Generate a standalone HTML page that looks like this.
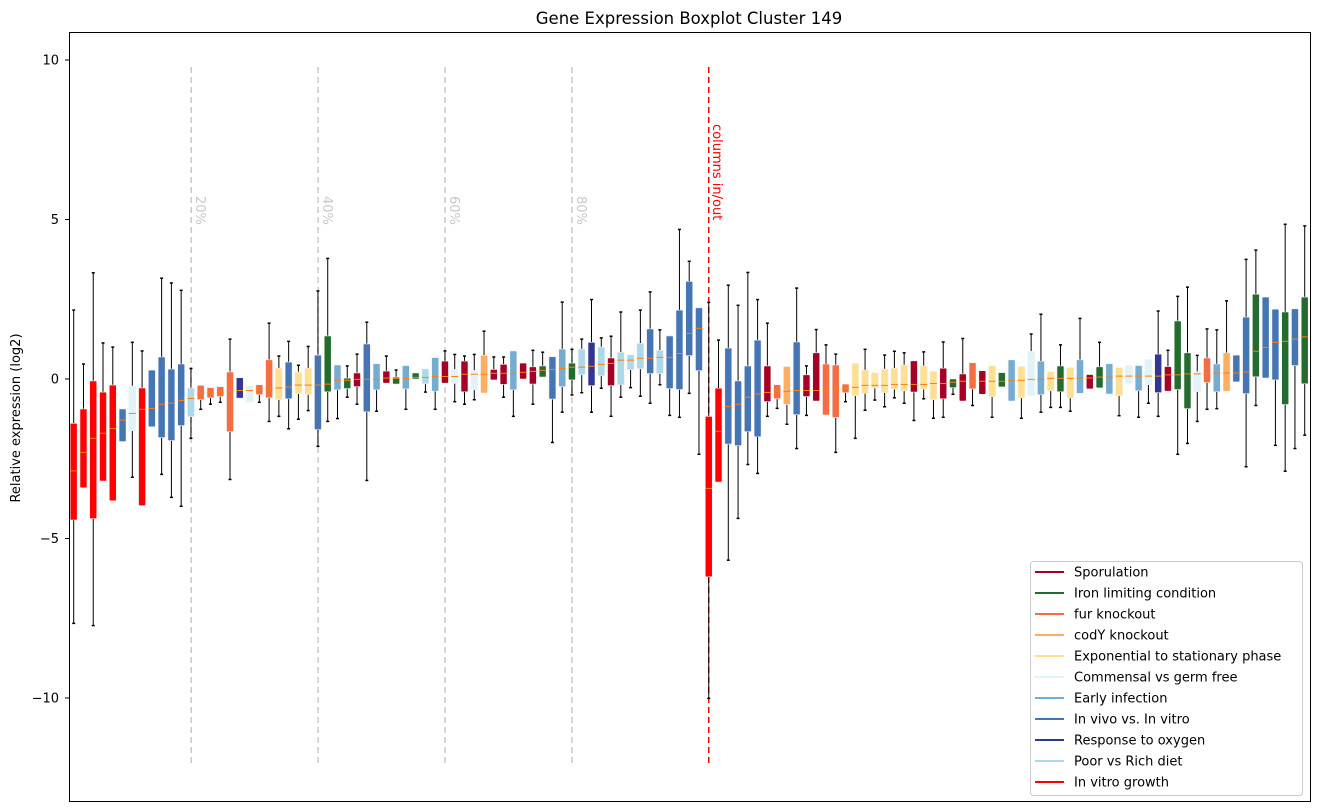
<!DOCTYPE html>
<html><head><meta charset="utf-8"><style>
body{margin:0;background:#fff;}
svg{display:block;font-family:"DejaVu Sans","Liberation Sans",sans-serif;}
</style></head><body>
<svg id="chart" width="1318" height="812" viewBox="0 0 1318 812" xmlns="http://www.w3.org/2000/svg">
<rect x="0" y="0" width="1318" height="812" fill="#fff"/>
<text x="689" y="24" text-anchor="middle" font-size="16.5">Gene Expression Boxplot Cluster 149</text>
<text transform="translate(20,418) rotate(-90)" text-anchor="middle" font-size="13">Relative expression (log2)</text>
<g id="axes"></g>
<g id="marks"></g>
<rect x="69.5" y="32.5" width="1241" height="769" fill="none" stroke="#000" stroke-width="1"/>
<g id="legend"></g>
</svg>
<script>
const categories = ["S","I","F","C","E","M","A","V","O","P","R"];
const categoryNames = ["Sporulation","Iron limiting condition","fur knockout","codY knockout","Exponential to stationary phase","Commensal vs germ free","Early infection","In vivo vs. In vitro","Response to oxygen","Poor vs Rich diet","In vitro growth"];
const categoryColors = ["#a50026","#236b2e","#f46d43","#fdae61","#fee090","#e0f3f8","#74add1","#4575b4","#313695","#abd9e9","#ff0000"];
const boxGroups = ["R","R","R","R","R","V","M","R","V","V","V","V","P","F","F","F","F","O","M","F","F","E","V","E","E","V","I","A","I","S","V","A","S","I","A","I","P","A","S","M","S","M","C","S","S","A","S","S","I","V","A","I","P","O","P","S","P","P","P","V","P","V","V","V","V","R","R","V","V","V","V","S","F","C","V","S","S","F","F","F","E","E","E","E","E","E","S","E","E","S","I","S","F","S","E","I","A","E","M","A","E","I","E","A","S","I","A","E","M","A","M","O","S","I","I","M","F","A","C","V","V","I","V","V","I","V","I"];
const whiskerHigh = [2.16,0.47,3.33,1.13,1.0,-0.94,1.15,0.88,0.28,3.16,3.01,2.78,0.33,-0.20,-0.27,-0.24,1.25,0.04,-0.21,-0.18,1.75,0.72,1.18,0.43,1.02,2.76,3.78,0.44,0.41,0.78,1.78,0.48,0.72,0.28,0.42,0.19,0.32,0.67,0.88,0.77,0.72,0.77,1.50,0.69,0.69,0.88,0.50,0.90,0.84,0.70,2.41,0.93,1.25,2.49,1.29,1.34,2.10,0.76,2.16,2.73,1.54,1.35,4.69,3.69,2.23,2.40,1.22,2.94,2.31,3.34,2.49,1.75,-0.18,0.39,2.85,0.41,1.55,1.07,0.78,-0.16,0.49,0.93,0.20,0.75,0.87,0.82,0.57,0.85,0.24,1.16,0,1.27,0.51,0.26,0.42,0.20,0.60,0.39,1.41,2.03,0.23,1.07,0.36,1.90,0.14,1.15,0.48,0.36,0.42,0.42,0.61,2.13,0.90,2.59,2.88,0.74,1.57,1.54,2.45,0.75,3.75,4.04,2.57,2.19,4.85,2.20,4.80];
const q3Values = [-1.39,-0.94,-0.06,-0.41,-0.19,-0.94,-0.22,-0.28,0.28,0.69,0.31,0.47,-0.28,-0.20,-0.27,-0.24,0.22,0.04,-0.21,-0.18,0.60,0.34,0.53,0.22,0.34,0.75,1.35,0.44,0.03,0.19,1.10,0.48,0.25,0.06,0.42,0.19,0.32,0.67,0.56,0.30,0.56,0.27,0.74,0.30,0.46,0.88,0.50,0.38,0.41,0.70,0.94,0.50,0.94,1.15,1.0,0.66,0.84,0.76,1.12,1.57,0.90,1.35,2.16,3.06,2.23,-1.17,-0.29,0.97,-0.06,0.41,1.22,0.41,-0.18,0.39,1.16,0.13,0.82,0.47,0.44,-0.16,0.49,0.28,0.20,0.31,0.34,0.44,0.57,0.41,0.24,0.34,0,0.16,0.51,0.26,0.42,0.20,0.60,0.39,0.87,0.56,0.23,0.41,0.36,0.60,0.14,0.38,0.48,0.36,0.42,0.42,0.61,0.78,0.39,1.82,0.82,0.23,0.66,0.47,0.82,0.75,1.94,2.66,2.57,2.19,2.10,2.20,2.57];
const medianValues = [-2.88,-2.30,-1.86,-1.70,-1.55,-1.29,-1.08,-0.95,-0.92,-0.79,-0.76,-0.67,-0.61,-0.45,-0.43,-0.41,-0.39,-0.36,-0.36,-0.34,-0.31,-0.28,-0.25,-0.19,-0.19,-0.19,-0.16,-0.04,-0.04,-0.01,-0.01,-0.01,0.03,0.02,0.02,0.05,0.05,0.08,0.08,0.08,0.15,0.15,0.15,0.18,0.18,0.18,0.21,0.24,0.27,0.30,0.33,0.37,0.37,0.40,0.46,0.49,0.59,0.59,0.65,0.65,0.68,0.68,0.80,1.43,1.59,-3.43,-1.64,-0.86,-0.79,-0.57,-0.47,-0.42,-0.38,-0.39,-0.36,-0.36,-0.36,-0.32,-0.29,-0.29,-0.26,-0.20,-0.20,-0.20,-0.17,-0.17,-0.17,-0.17,-0.14,-0.14,-0.10,-0.07,-0.07,-0.07,-0.07,-0.07,-0.04,-0.04,-0.01,-0.01,0.02,0.02,0.02,0.03,0.03,0.06,0.06,0.09,0.09,0.09,0.09,0.09,0.13,0.13,0.16,0.16,0.16,0.19,0.19,0.19,0.22,0.87,0.99,1.15,1.18,1.25,1.32];
const q1Values = [-4.42,-3.41,-4.38,-3.20,-3.82,-1.96,-1.62,-3.97,-1.50,-1.84,-1.93,-1.46,-1.18,-0.65,-0.59,-0.55,-1.65,-0.60,-0.72,-0.49,-0.59,-0.65,-0.62,-0.46,-0.49,-1.59,-0.40,-0.34,-0.30,-0.24,-1.03,-0.34,-0.13,-0.16,-0.31,0,-0.15,-0.38,-0.13,-0.14,-0.40,-0.34,-0.44,-0.03,-0.17,-0.34,0,-0.16,0.06,-0.63,-0.24,-0.03,0.13,-0.21,0.10,-0.21,-0.18,0.29,0.32,0.17,0.17,-0.30,-0.33,0.73,0.26,-6.20,-3.23,-2.04,-2.09,-1.65,-1.81,-0.71,-0.62,-0.80,-1.12,-0.55,-0.69,-1.13,-1.21,-0.43,-0.52,-0.45,-0.29,-0.43,-0.32,-0.37,-0.41,-0.32,-0.65,-0.62,-0.27,-0.69,-0.31,-0.48,-0.55,-0.25,-0.69,-0.59,-0.51,-0.49,-0.37,-0.40,-0.59,-0.45,-0.31,-0.28,-0.47,-0.52,-0.14,-0.37,-0.18,-0.43,-0.38,-0.33,-0.93,-0.40,-0.11,-0.40,-0.38,-0.09,-0.46,0.07,0.03,-0.03,-0.80,0.42,-0.15];
const whiskerLow = [-7.66,-3.41,-7.73,-3.20,-3.82,-1.96,-3.08,-3.97,-1.50,-2.99,-3.71,-3.99,-1.86,-0.95,-0.79,-0.73,-3.15,-0.60,-0.72,-0.73,-1.33,-1.17,-1.56,-1.26,-0.99,-2.11,-1.33,-1.24,-0.57,-0.79,-3.18,-1.01,-0.13,-0.16,-0.95,0,-0.41,-0.95,-0.13,-0.71,-0.79,-0.65,-0.44,-0.03,-0.57,-1.17,0,-0.79,0.06,-1.99,-1.04,-0.50,-0.43,-1.04,-0.29,-1.17,-0.57,-0.27,-0.54,-0.76,-0.18,-1.14,-1.20,-0.45,-2.36,-10.01,-3.23,-5.68,-4.37,-2.68,-2.96,-1.17,-0.92,-1.42,-2.18,-1.14,-0.69,-1.13,-2.30,-0.71,-1.86,-0.98,-0.66,-0.87,-0.59,-0.76,-1.30,-0.62,-1.23,-1.20,-0.48,-0.69,-0.83,-0.48,-1.20,-0.25,-0.69,-1.23,-0.51,-1.04,-0.89,-0.89,-1.01,-0.45,-0.31,-0.28,-0.47,-1.15,-0.14,-1.20,-0.76,-1.17,-0.38,-2.36,-2.02,-1.33,-0.95,-0.93,-0.38,-0.09,-2.75,-0.83,0.03,-2.08,-2.89,-2.18,-1.76];
const yTicks = [10,5,0,-5,-10];
const yTickLabels = ["10","5","0","\u22125","\u221210"];
const percentMarks = [20,40,60,80];
const splitIndex = 65;

const NS="http://www.w3.org/2000/svg";
function yScale(v){return 379 - 31.9*v;}
function xScale(i){return 73.7 + 9.77*i;}
function pctX(p){return 64.3 + 6.345*p;}
function mk(tag,attrs,parent){const e=document.createElementNS(NS,tag);for(const k in attrs)e.setAttribute(k,attrs[k]);parent.appendChild(e);return e;}
const axes=document.getElementById('axes'), marks=document.getElementById('marks'), legend=document.getElementById('legend');

yTicks.forEach((t,k)=>{
  const y=yScale(t);
  const tick=mk('line',{x1:65,x2:69,y1:y,y2:y,stroke:'#000','stroke-width':1},axes);
  
  
  const lab=mk('text',{x:59,y:y+4.5,'text-anchor':'end','font-size':13},axes);
  
  
  lab.textContent=yTickLabels[k];
});

percentMarks.forEach(p=>{
  const x=pctX(p);
  const ln=mk('line',{x1:x,x2:x,y1:67,y2:767,stroke:'#c8c8c8','stroke-width':1.5,'stroke-dasharray':'6,4'},axes);
  
  
  const tx=mk('text',{transform:`translate(${x+5},196) rotate(90)`,'font-size':13,fill:'#c8c8c8'},axes);
  
  
  tx.textContent=p+'%';
});

boxGroups.forEach((g,i)=>{
  const c=categoryColors[categories.indexOf(g)];
  const x=xScale(i);
  const grp=mk('g',{},marks);
  
  
  const yh=yScale(whiskerHigh[i]), y3=yScale(q3Values[i]), ym=yScale(medianValues[i]), y1=yScale(q1Values[i]), yl=yScale(whiskerLow[i]);
  if(yh<y3-0.5){mk('line',{x1:x,x2:x,y1:yh,y2:y3,stroke:'#000','stroke-width':1},grp);mk('line',{x1:x-1.5,x2:x+1.5,y1:yh,y2:yh,stroke:'#000','stroke-width':1.5},grp);}
  if(yl>y1+0.5){mk('line',{x1:x,x2:x,y1:y1,y2:yl,stroke:'#000','stroke-width':1},grp);mk('line',{x1:x-1.5,x2:x+1.5,y1:yl,y2:yl,stroke:'#000','stroke-width':1.5},grp);}
  mk('rect',{x:x-3.5,y:y3,width:7,height:Math.max(1,y1-y3),fill:c,stroke:'#f0f0f0','stroke-width':0.6,rx:1},grp);
  mk('line',{x1:x-3.5,x2:x+3.5,y1:ym,y2:ym,stroke:'#ff7f0e','stroke-width':1},grp);
});

const sx=xScale(splitIndex);
const sl=mk('line',{x1:sx,x2:sx,y1:67,y2:767,stroke:'#ff0000','stroke-width':1.5,'stroke-dasharray':'6,4'},axes);


const st=mk('text',{transform:`translate(${sx+4},124) rotate(90)`,'font-size':13,fill:'#ff0000'},axes);


st.textContent='columns in/out';

const lb=mk('rect',{x:1030.5,y:561.5,width:272,height:234,fill:'#fff',stroke:'#ccc','stroke-width':1,rx:3},legend);


categoryNames.forEach((n,k)=>{
  const y=572+21*k;
  const eg=mk('g',{},legend);
  
  
  mk('line',{x1:1035,x2:1064,y1:y,y2:y,stroke:categoryColors[k],'stroke-width':2},eg);
  const t=mk('text',{x:1074,y:y+4.5,'font-size':13},eg);
  t.textContent=n;
});
</script>
</body></html>
